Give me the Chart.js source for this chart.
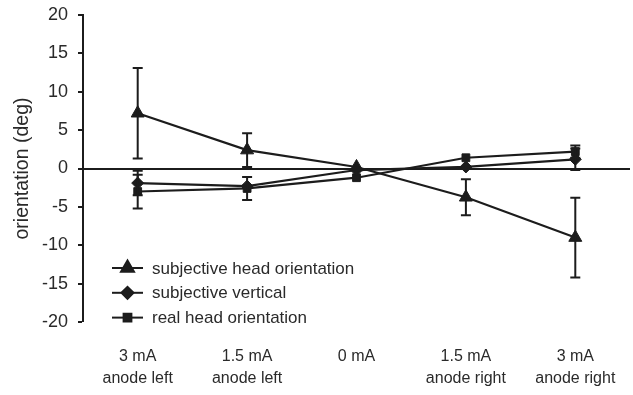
<!DOCTYPE html>
<html>
<head>
<meta charset="utf-8">
<script src="https://cdn.jsdelivr.net/npm/chart.js@4.4.1/dist/chart.umd.min.js"></script>
<style>
  html, body { margin: 0; padding: 0; background: #fff; }
  #wrap { width: 633px; height: 395px; position: relative; }
</style>
</head>
<body>
<div id="wrap"><canvas id="orientChart"></canvas></div>
<script>
// Stimulation conditions (x categories)
const categories = [
    ['3 mA', 'anode left'],
    ['1.5 mA', 'anode left'],
    '0 mA',
    ['1.5 mA', 'anode right'],
    ['3 mA', 'anode right']
];

// Series values (deg) and their error half-widths
const headOrientation = [7.2, 2.4, 0.2, -3.75, -9.0];
const headOrientationErr = [5.9, 2.2, 0, 2.35, 5.2];
const subjVertical = [-1.9, -2.3, -0.2, 0.2, 1.2];
const subjVerticalErr = [1.6, 0, 0, 0, 1.4];
const realHead = [-3.0, -2.6, -1.2, 1.4, 2.2];
const realHeadErr = [2.2, 1.5, 0, 0, 0.8];

const yTicks = [-20, -15, -10, -5, 0, 5, 10, 15, 20];

const ink = '#1c1c1c';
const fontFamily = 'Arial, "Liberation Sans", Helvetica, sans-serif';

// Draws vertical error bars with caps using the chart scales
const errorBarPlugin = {
    id: 'errorBars',
    afterDatasetsDraw(chart) {
        const { ctx, scales: { x, y } } = chart;
        ctx.save();
        ctx.strokeStyle = ink;
        ctx.lineWidth = 2;
        chart.data.datasets.forEach(ds => {
            if (!ds.errors) return;
            ds.data.forEach((v, i) => {
                const e = ds.errors[i];
                if (!e) return;
                const px = x.getPixelForValue(i);
                const top = y.getPixelForValue(v + e);
                const bot = y.getPixelForValue(v - e);
                ctx.beginPath();
                ctx.moveTo(px, top);
                ctx.lineTo(px, bot);
                ctx.moveTo(px - 5, top);
                ctx.lineTo(px + 5, top);
                ctx.moveTo(px - 5, bot);
                ctx.lineTo(px + 5, bot);
                ctx.stroke();
            });
        });
        ctx.restore();
    }
};

// Legend drawn inside the plot area, lower left
const innerLegendPlugin = {
    id: 'innerLegend',
    afterDraw(chart) {
        const { ctx } = chart;
        ctx.save();
        ctx.font = '17px ' + fontFamily;
        ctx.textBaseline = 'middle';
        chart.data.datasets.forEach((ds, i) => {
            const yy = 268 + i * 24.8;
            ctx.strokeStyle = ink;
            ctx.lineWidth = 2;
            ctx.beginPath();
            ctx.moveTo(112, yy);
            ctx.lineTo(143, yy);
            ctx.stroke();
            Chart.helpers.drawPoint(ctx, {
                pointStyle: ds.pointStyle,
                radius: ds.pointRadius,
                rotation: 0,
                borderWidth: 1
            }, 127.5, yy);
            ctx.fillStyle = ink;
            ctx.fill();
            ctx.fillStyle = '#2a2a2a';
            ctx.fillText(ds.label, 152, yy + 1);
        });
        ctx.restore();
    }
};

const ctx = document.getElementById('orientChart').getContext('2d');
new Chart(ctx, {
    type: 'line',
    data: {
        labels: categories,
        datasets: [
            {
                label: 'subjective head orientation',
                data: headOrientation,
                errors: headOrientationErr,
                pointStyle: 'triangle',
                pointRadius: 7.5
            },
            {
                label: 'subjective vertical',
                data: subjVertical,
                errors: subjVerticalErr,
                pointStyle: 'rectRot',
                pointRadius: 6
            },
            {
                label: 'real head orientation',
                data: realHead,
                errors: realHeadErr,
                pointStyle: 'rect',
                pointRadius: 5.5
            }
        ].map(ds => Object.assign(ds, {
            borderColor: ink,
            backgroundColor: ink,
            pointBackgroundColor: ink,
            pointBorderColor: ink,
            pointBorderWidth: 1,
            borderWidth: 2.2,
            tension: 0,
            fill: false,
            clip: false
        }))
    },
    options: {
        responsive: true,
        maintainAspectRatio: false,
        animation: false,
        layout: { autoPadding: false, padding: { top: 15, right: 3, bottom: 0, left: 0 } },
        plugins: {
            legend: { display: false },
            tooltip: { enabled: false }
        },
        scales: {
            x: {
                offset: true,
                afterFit: s => { s.height = 73; s.paddingLeft = 0; s.paddingRight = 0; },
                grid: { display: false, drawTicks: false },
                border: { display: false },
                ticks: {
                    color: '#2a2a2a',
                    padding: 23,
                    maxRotation: 0,
                    autoSkip: false,
                    font: { size: 16, family: fontFamily, lineHeight: 1.4 }
                }
            },
            y: {
                min: -20,
                max: 20,
                afterFit: s => { s.width = 83; s.paddingTop = 0; s.paddingBottom = 0; },
                afterBuildTicks: s => { s.ticks = yTicks.map(v => ({ value: v })); },
                border: { display: true, color: ink, width: 2 },
                grid: {
                    drawOnChartArea: true,
                    color: c => (c.tick && c.tick.value === 0 ? ink : 'rgba(0,0,0,0)'),
                    lineWidth: c => (c.tick && c.tick.value === 0 ? 2 : 0),
                    tickColor: ink,
                    tickLength: 5,
                    tickWidth: 2
                },
                ticks: {
                    color: '#2a2a2a',
                    padding: 10,
                    font: { size: 18, family: fontFamily }
                },
                title: {
                    display: true,
                    text: 'orientation (deg)',
                    color: '#2a2a2a',
                    font: { size: 19.5, family: fontFamily },
                    padding: { top: 11, bottom: 0 }
                }
            }
        }
    },
    plugins: [errorBarPlugin, innerLegendPlugin]
});
</script>
</body>
</html>
